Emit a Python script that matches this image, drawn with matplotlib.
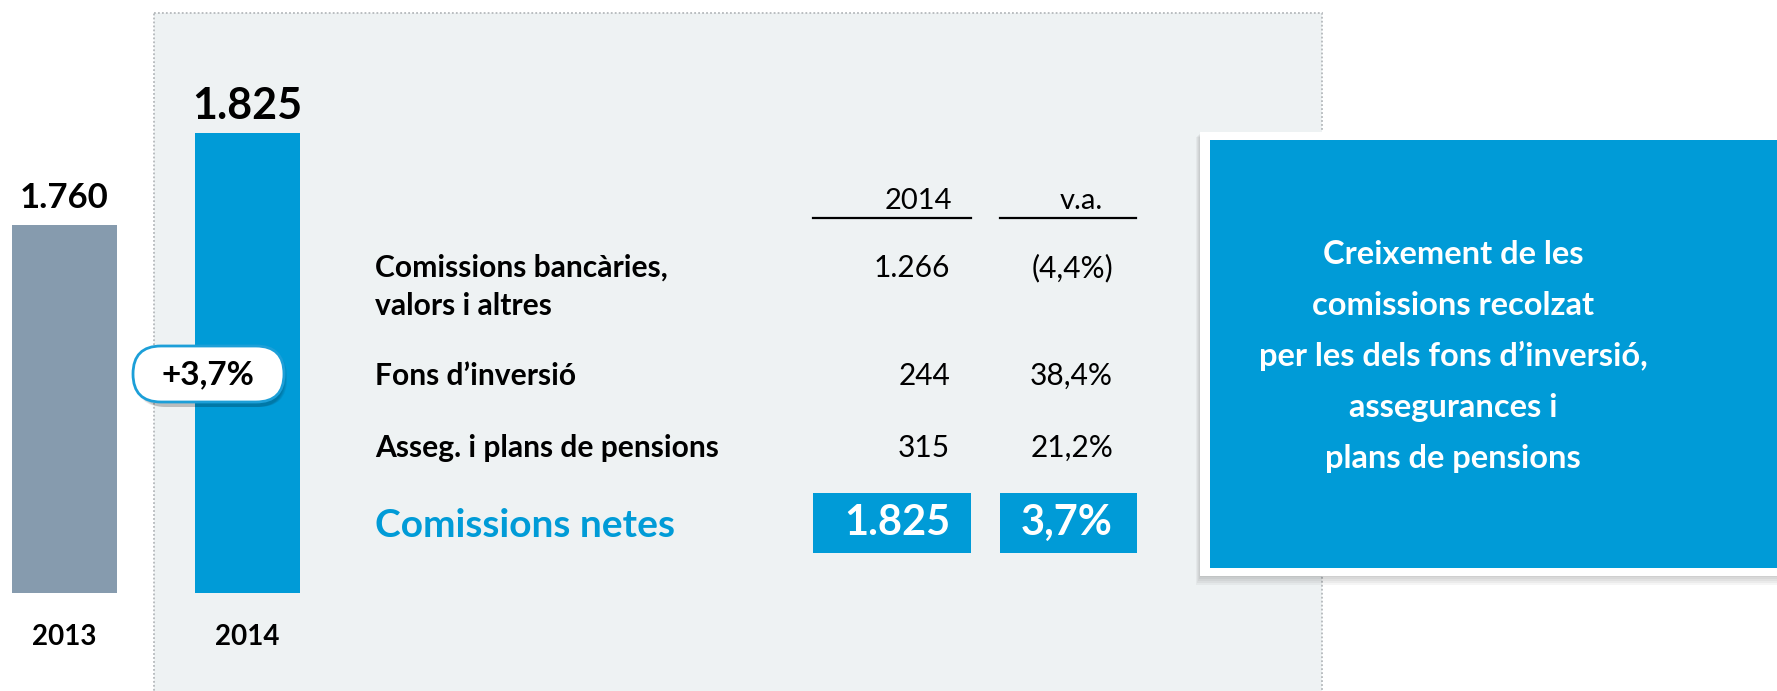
import matplotlib.pyplot as plt
from matplotlib.patches import Rectangle, FancyBboxPatch

plt.rcParams['font.family'] = ['Lato', 'DejaVu Sans']

# --- dades ---
anys = ['2013', '2014']
comissions = [1760, 1825]

conceptes = ['Comissions bancàries,\nvalors i altres', 'Fons d’inversió', 'Asseg. i plans de pensions']
imports_2014 = [1266, 244, 315]
var_anual = [-4.4, 38.4, 21.2]
total_2014 = 1825
var_total = 3.7
capcalera = ['2014', 'v.a.']

missatge = ['Creixement de les', 'comissions recolzat', 'per les dels fons d’inversió,',
            'assegurances i', 'plans de pensions']

BLAU = '#009bd7'
GRIS_BARRA = '#869bae'
FONS_PANELL = '#eef2f3'

W, H = 1777, 691


def miles(v):
    return f"{v:,}".replace(",", ".")


def pct(v):
    s = f"{abs(v):.1f}".replace(".", ",") + "%"
    return f"({s})" if v < 0 else s


fig = plt.figure(figsize=(W / 100, H / 100), dpi=100)

# capa de fons en píxels (0,0 a dalt a l'esquerra)
ax_bg = fig.add_axes([0, 0, 1, 1], zorder=0)
ax_bg.set_xlim(0, W)
ax_bg.set_ylim(H, 0)
ax_bg.axis('off')

# panell gris amb vora puntejada
ax_bg.add_patch(Rectangle((154, 13), 1168, 720, fc=FONS_PANELL, ec='#b5b9bc',
                          lw=1.3, ls=(0, (1, 1.2))))

# taula de desglossament
col_x = [950, 1113]
ax_bg.text(col_x[0] + 2, 209, capcalera[0], ha='right', va='baseline', fontsize=21)
ax_bg.text(col_x[1] - 10, 209, capcalera[1], ha='right', va='baseline', fontsize=21)
ax_bg.plot([813, 971], [218, 218], color='black', lw=1.6)
ax_bg.plot([1000, 1136], [218, 218], color='black', lw=1.6)

files_y = [277, 385, 457]
for y, nom, imp, va_ in zip(files_y, conceptes, imports_2014, var_anual):
    for j, linia in enumerate(nom.split('\n')):
        ax_bg.text(375, y + 38 * j, linia, ha='left', va='baseline', fontsize=21.6,
                   fontweight='bold')
    ax_bg.text(col_x[0], y, miles(imp), ha='right', va='baseline', fontsize=21.5)
    ax_bg.text(col_x[1], y, pct(va_), ha='right', va='baseline', fontsize=21.5)

# fila del total
ax_bg.add_patch(Rectangle((813, 493), 158, 60, fc=BLAU, ec='none'))
ax_bg.add_patch(Rectangle((1000, 493), 137, 60, fc=BLAU, ec='none'))
ax_bg.text(375, 537, 'Comissions netes', ha='left', va='baseline', fontsize=28,
           fontweight='bold', color=BLAU)
ax_bg.text(col_x[0], 535, miles(total_2014), ha='right', va='baseline', fontsize=30,
           fontweight='bold', color='white')
ax_bg.text(col_x[1], 535, pct(var_total), ha='right', va='baseline', fontsize=30,
           fontweight='bold', color='white')

# requadre del missatge amb ombra
for k in range(5):
    ax_bg.add_patch(Rectangle((1200 - k, 133 + k), 600, 444 + k, fc='black', alpha=0.04,
                              ec='none'))
ax_bg.add_patch(Rectangle((1200, 132), 600, 444, fc='white', ec='none'))
ax_bg.add_patch(Rectangle((1210, 140), 600, 428, fc=BLAU, ec='none'))
for j, linia in enumerate(missatge):
    ax_bg.text(1453, 264 + 51 * j, linia, ha='center', va='baseline', fontsize=23.5,
               fontweight='bold', color='white')

# --- gràfic de barres ---
ax = fig.add_axes([0, 98 / H, 340 / W, (H - 98) / H], zorder=1)
ax.patch.set_alpha(0)
x = list(range(len(anys)))
ax.bar(x, comissions, width=0.574, color=[GRIS_BARRA, BLAU])
ax.set_xlim(-0.352, 1.505)
ax.set_ylim(1500, 1919)
ax.set_xticks(x, anys, fontsize=20, fontweight='bold')
ax.tick_params(axis='x', length=0, pad=22)
ax.set_yticks([])
for s in ax.spines.values():
    s.set_visible(False)

for i, (v, mida, pad) in enumerate(zip(comissions, [25, 31], [8, 5])):
    ax.annotate(miles(v), (i, v), xytext=(0, pad), textcoords='offset points',
                ha='center', va='bottom', fontsize=mida, fontweight='bold')

# etiqueta de creixement
creix = (comissions[1] / comissions[0] - 1) * 100
ax_fg = fig.add_axes([0, 0, 1, 1], zorder=2)
ax_fg.set_xlim(0, W)
ax_fg.set_ylim(H, 0)
ax_fg.axis('off')
for k in range(4):
    ax_fg.add_patch(FancyBboxPatch((136 + k, 349 + 2 * k), 151 - 2 * k, 58 - 2 * k,
                                   boxstyle='round,pad=0,rounding_size=28',
                                   fc='black', alpha=0.06, ec='none'))
ax_fg.add_patch(FancyBboxPatch((133, 346), 151, 56, boxstyle='round,pad=0,rounding_size=28',
                               fc='white', ec='#1c9fd8', lw=2))
ax_fg.text(208, 375, '+' + f"{creix:.1f}".replace('.', ',') + '%', ha='center', va='center',
           fontsize=24, fontweight='bold')

fig.savefig('out.png', dpi=100)
